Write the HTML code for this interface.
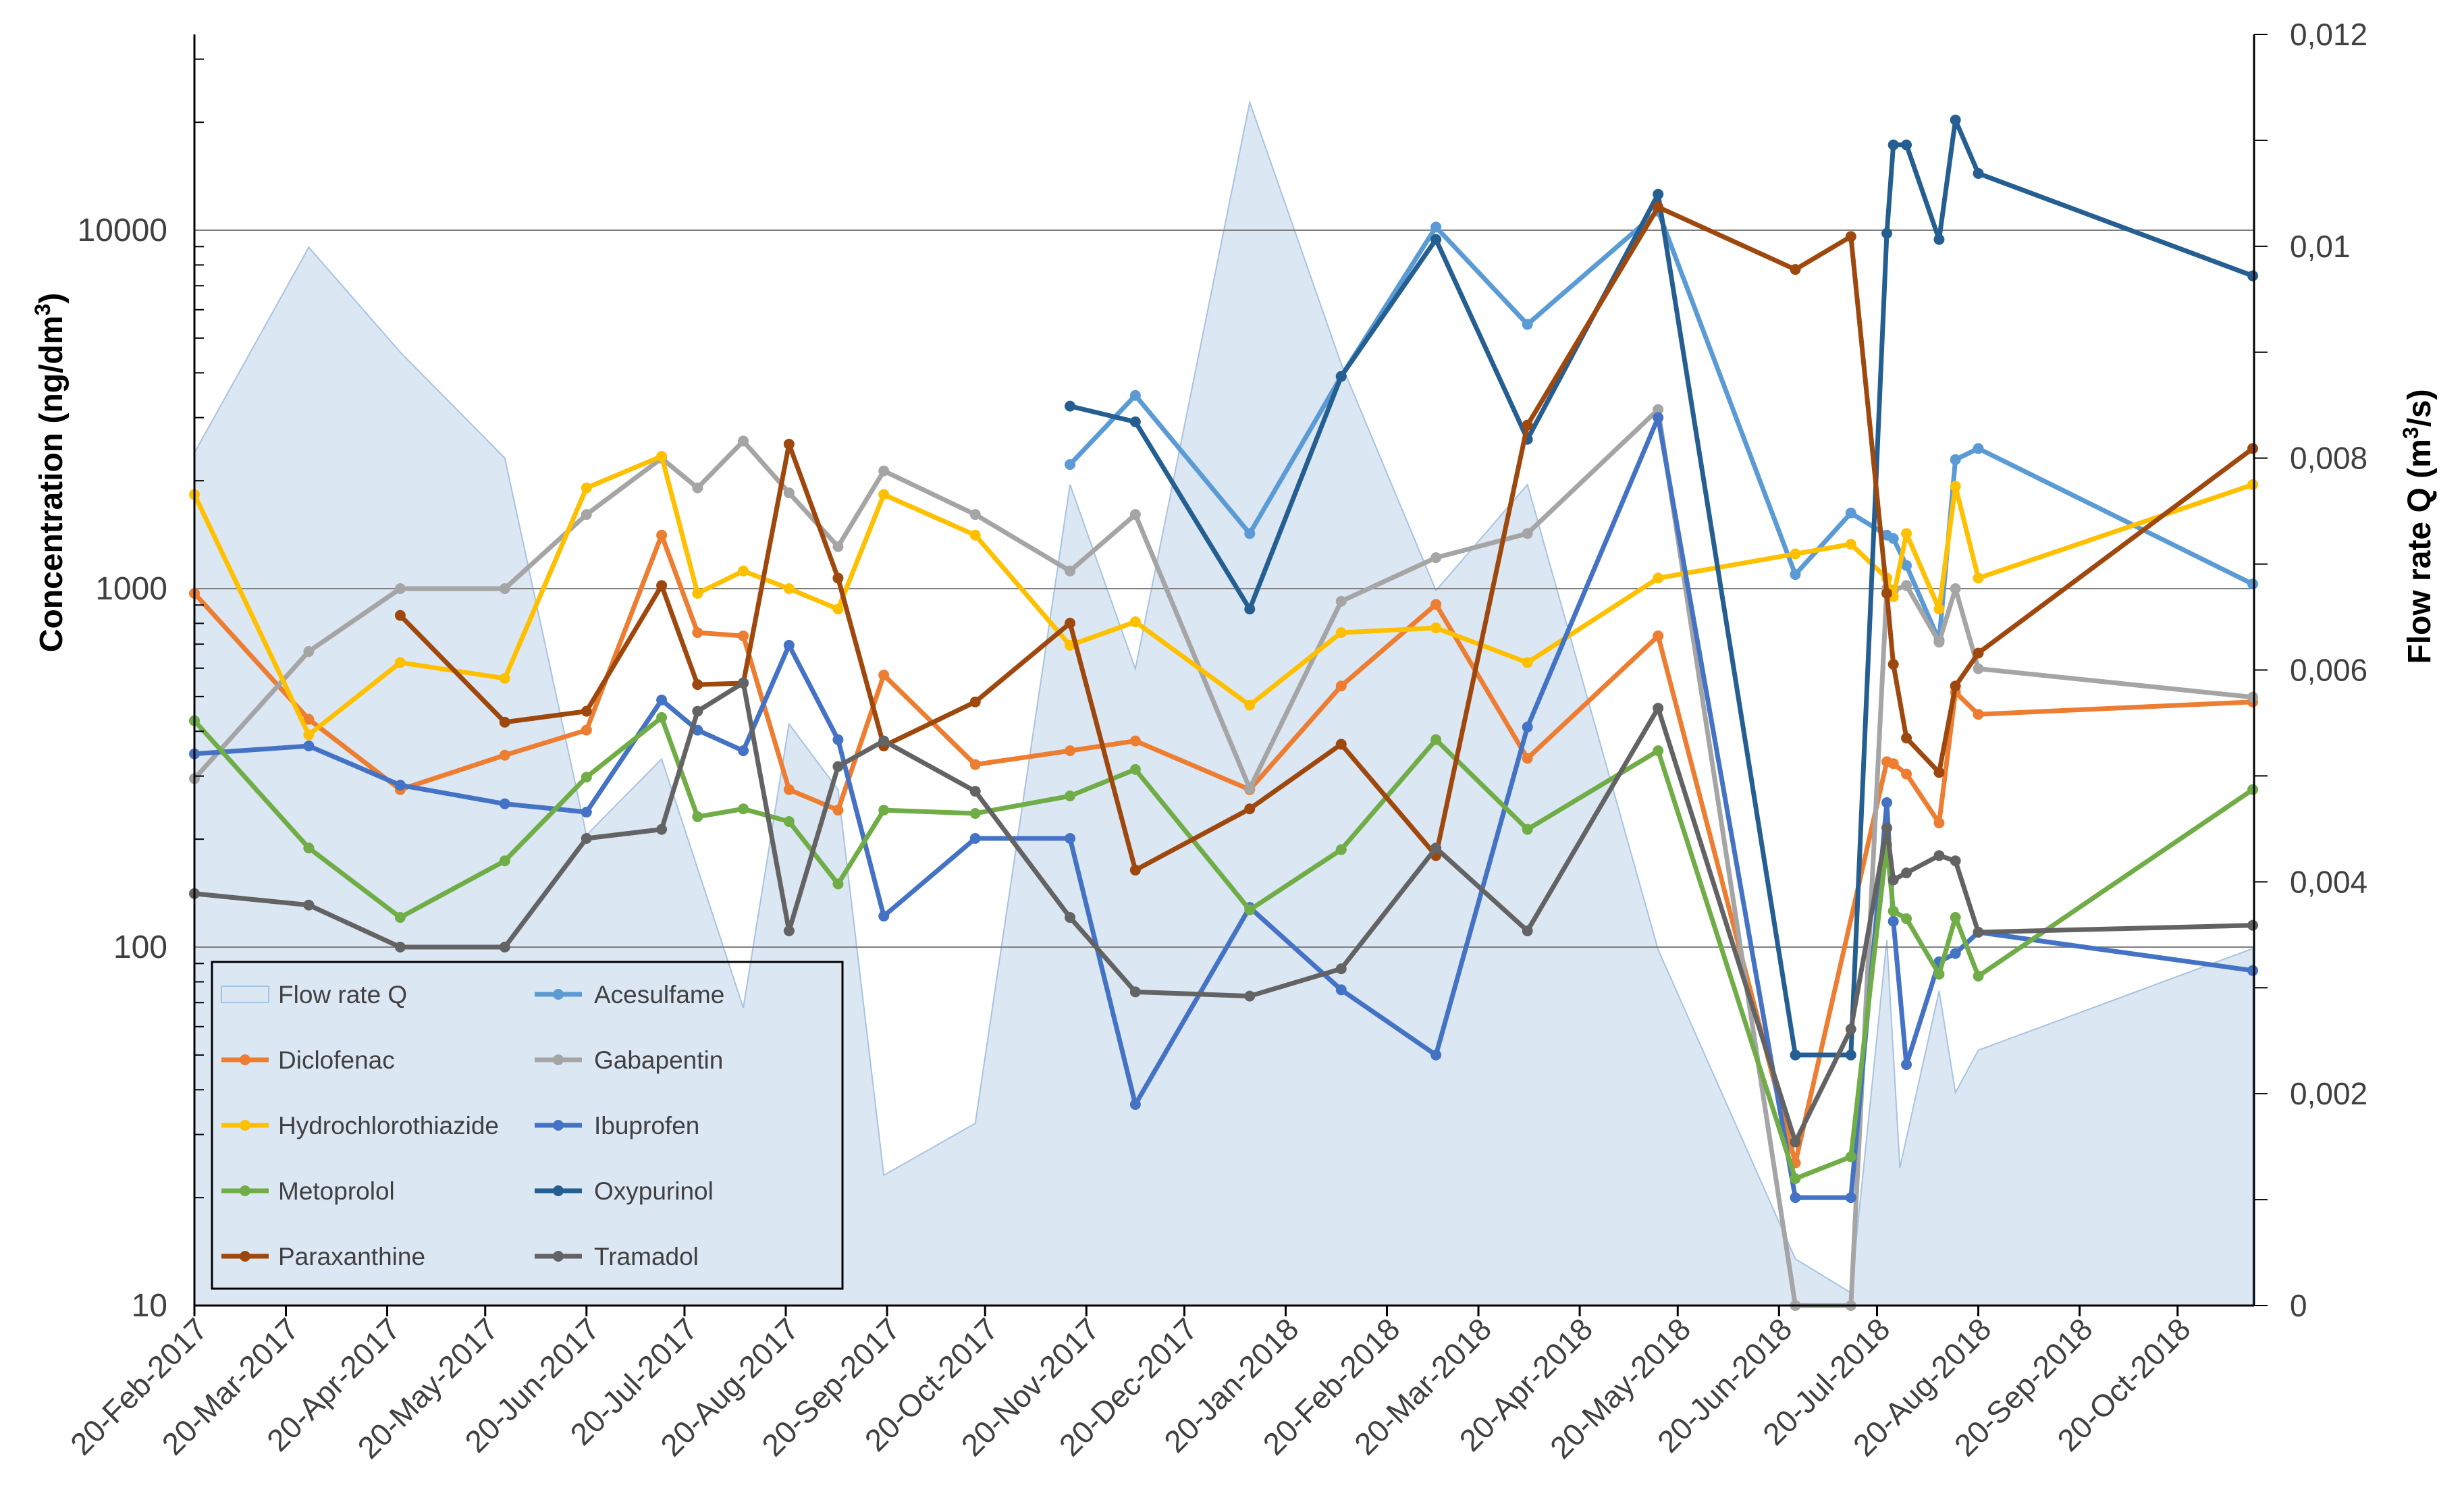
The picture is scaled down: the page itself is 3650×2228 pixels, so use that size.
<!DOCTYPE html>
<html><head><meta charset="utf-8">
<style>
html,body{margin:0;padding:0;background:#fff;}
svg{display:block;font-family:"Liberation Sans",sans-serif;}
</style></head>
<body>
<svg id="chart" width="3650" height="2228" viewBox="0 0 3650 2228" xmlns="http://www.w3.org/2000/svg">
<g id="area-layer"></g>
<g id="grid-layer"></g>
<g id="series-layer"></g>
<g id="axis-layer"></g>
<g id="legend"></g>
<text transform="translate(92,700) rotate(-90)" text-anchor="middle" font-size="48" font-weight="bold" fill="#000">Concentration  (ng/dm<tspan font-size="32" dy="-18">3</tspan><tspan dy="18">)</tspan></text>
<text transform="translate(3600,780) rotate(-90)" text-anchor="middle" font-size="48" font-weight="bold" fill="#000">Flow rate Q (m<tspan font-size="32" dy="-18">3</tspan><tspan dy="18">/s)</tspan></text>
</svg>
<script>
// ---- data ----
const sampleDays = [0,35,63,95,120,143,154,168,182,197,211,239,268,288,323,351,380,408,448,490,507,518,520,524,534,539,546,630];
const flowDays = [0,35,63,95,120,143,168,182,197,211,239,268,288,323,351,380,408,448,490,507,518,522,534,539,546,630];
const flowQ = [0.00805,0.00999,0.0090,0.0080,0.00444,0.00516,0.00281,0.00549,0.00487,0.00123,0.00172,0.00775,0.00601,0.01136,0.00889,0.00675,0.00775,0.00336,0.00044,0.00012,0.00345,0.0013,0.00297,0.00201,0.00241,0.00337];
const acesulfame = [null,null,null,null,null,null,null,null,null,null,null,null,2220,3460,1425,3910,10200,5460,11300,1095,1625,1410,1380,1160,717,2290,2460,1030];
const diclofenac = [970,432,275,343,403,1410,754,738,275,241,574,323,353,376,275,535,904,336,738,25,null,329,325,304,222,514,446,483];
const gabapentin = [295,668,1000,1000,1610,2310,1910,2580,1850,1310,2130,1610,1120,1610,277,922,1220,1425,3160,10,10,1000,990,1020,709,1000,598,498];
const hydrochlorothiazide = [1830,391,622,562,1910,2340,970,1120,1000,877,1830,1410,695,808,473,754,777,622,1070,1250,1330,1070,950,1425,877,1930,1070,1950];
const ibuprofen = [346,364,283,251,238,489,403,353,695,379,122,201,201,36.4,129,76,50,411,3000,20,20,253,118,47,91,96,110,86];
const metoprolol = [428,189,121,174,298,437,231,243,224,150,241,236,264,313,127,187,379,213,353,22.6,26,193,126,120,84,121,83,275];
const oxypurinol = [null,null,null,null,null,null,null,null,null,null,null,null,3230,2920,877,3910,9420,2610,12600,50,50,9800,17300,17300,9420,20300,14400,7460];
const paraxanthine = [null,null,842,424,455,1020,540,545,2530,1070,364,483,801,164,243,368,180,2860,11600,7770,9600,970,615,383,307,535,661,2460];
const tramadol = [141,131,100,100,201,213,455,546,111,319,376,272,121,75,73,87,189,111,464,28.6,59,215,154,161,180,174,110,115];
const leftTicks = [10,100,1000,10000];
const rightTicks = [0,0.002,0.004,0.006,0.008,0.01,0.012];
const monthNames = ["Jan","Feb","Mar","Apr","May","Jun","Jul","Aug","Sep","Oct","Nov","Dec"];

// ---- geometry ----
const PL=288, PR=3339, PT=51, PB=1934;
const DAYMAX=630.4, LOGMIN=1, DEC=531, QMAX=0.012;
const NS="http://www.w3.org/2000/svg";
const xS = d => PL + d/DAYMAX*(PR-PL);
const yL = v => PB - (Math.log10(v)-LOGMIN)*DEC;
const yR = q => PB - q/QMAX*(PB-PT);
function mk(tag, attrs, parent){const e=document.createElementNS(NS,tag);for(const k in attrs)e.setAttribute(k,attrs[k]);parent.appendChild(e);return e;}

const area=document.getElementById('area-layer');
const grid=document.getElementById('grid-layer');
const ser=document.getElementById('series-layer');
const ax=document.getElementById('axis-layer');
const leg=document.getElementById('legend');

// flow area
let pts=[[xS(flowDays[0]),PB]];
flowDays.forEach((d,i)=>pts.push([xS(d),yR(flowQ[i])]));
pts.push([xS(flowDays[flowDays.length-1]),PB]);
const poly=mk('polygon',{points:pts.map(p=>p.join(',')).join(' '),fill:'#dce7f4',stroke:'#a8c3e0','stroke-width':2},area);



// gridlines
leftTicks.slice(1).forEach(v=>{
  const l=mk('line',{x1:PL,x2:PR,y1:yL(v),y2:yL(v),stroke:'#7f7f7f','stroke-width':2},grid);
  
  
});

// series
const series=[
 ['acesulfame',acesulfame,'#5b9bd5'],['diclofenac',diclofenac,'#ed7d31'],['gabapentin',gabapentin,'#a5a5a5'],
 ['hydrochlorothiazide',hydrochlorothiazide,'#ffc000'],['ibuprofen',ibuprofen,'#4472c4'],['metoprolol',metoprolol,'#70ad47'],
 ['oxypurinol',oxypurinol,'#255e91'],['paraxanthine',paraxanthine,'#9e480e'],['tramadol',tramadol,'#636363']];
series.forEach(([name,vals,col])=>{
  const g=mk('g',{},ser);
  
  
  const p=[];
  vals.forEach((v,i)=>{if(v!=null)p.push([xS(sampleDays[i]),yL(v)]);});
  const pl=mk('polyline',{points:p.map(a=>a.join(',')).join(' '),fill:'none',stroke:col,'stroke-width':7,'stroke-linejoin':'round'},g);
  
  
  p.forEach((a,i)=>{
    const c=mk('circle',{cx:a[0],cy:a[1],r:8,fill:col},g);
    
    
  });
});

// axes
mk('line',{x1:PL,x2:PL,y1:PT,y2:PB,stroke:'#000','stroke-width':3},ax);
mk('line',{x1:PR,x2:PR,y1:PT,y2:PB,stroke:'#000','stroke-width':3},ax);
mk('line',{x1:PL,x2:PR,y1:PB,y2:PB,stroke:'#000','stroke-width':3},ax);
for(let e=1;e<=4;e++){
  for(let m=1;m<=9;m++){
    const v=m*Math.pow(10,e); if(yL(v)<PT)continue;
    mk('line',{x1:PL,x2:PL+(m===1?0:14),y1:yL(v),y2:yL(v),stroke:'#000','stroke-width':2},ax);
  }
}
leftTicks.forEach(v=>{
  const t=mk('text',{x:248,y:yL(v)+16,'text-anchor':'end','font-size':48,fill:'#404040'},ax);
  t.textContent=String(v);
  
  
});
for(let k=0;k<=12;k++){
  const q=k*0.001;
  mk('line',{x1:PR,x2:PR+20,y1:yR(q),y2:yR(q),stroke:'#000','stroke-width':2},ax);
}
rightTicks.forEach(q=>{
  const t=mk('text',{x:3392,y:yR(q)+16,'text-anchor':'start','font-size':46,fill:'#404040'},ax);
  t.textContent=q===0?'0':String(+q.toFixed(3)).replace('.',',');
  
  
});
const base=Date.UTC(2017,1,20);
for(let k=0;k<21;k++){
  const dt=new Date(Date.UTC(2017,1+k,20));
  const d=(dt-base)/86400000;
  const x=xS(d);
  mk('line',{x1:x,x2:x,y1:PB,y2:PB+16,stroke:'#000','stroke-width':3},ax);
  const t=mk('text',{transform:`translate(${x+22},${PB+38}) rotate(-45)`,'text-anchor':'end','font-size':46,fill:'#404040'},ax);
  t.textContent=`20-${monthNames[dt.getUTCMonth()]}-${dt.getUTCFullYear()}`;
  
  
}

// legend
const lb=mk('rect',{x:314,y:1425,width:934,height:484,fill:'none',stroke:'#000','stroke-width':3},leg);


const legendItems=[['Flow rate Q',null],['Acesulfame','#5b9bd5'],['Diclofenac','#ed7d31'],['Gabapentin','#a5a5a5'],
 ['Hydrochlorothiazide','#ffc000'],['Ibuprofen','#4472c4'],['Metoprolol','#70ad47'],['Oxypurinol','#255e91'],
 ['Paraxanthine','#9e480e'],['Tramadol','#636363']];
legendItems.forEach(([lab,col],i)=>{
  const cx=i%2===0?328:792, tx=i%2===0?412:880, y=1473+Math.floor(i/2)*97;
  const g=mk('g',{},leg);
  
  
  if(col===null){
    mk('rect',{x:cx,y:y-12,width:70,height:24,fill:'#dce7f4',stroke:'#a8c3e0','stroke-width':2},g);
  } else {
    mk('line',{x1:cx,x2:cx+70,y1:y,y2:y,stroke:col,'stroke-width':7},g);
    mk('circle',{cx:cx+35,cy:y,r:8,fill:col},g);
  }
  const t=mk('text',{x:tx,y:y+13,'font-size':37,fill:'#404040'},g);
  t.textContent=lab;
});
</script>
</body></html>
